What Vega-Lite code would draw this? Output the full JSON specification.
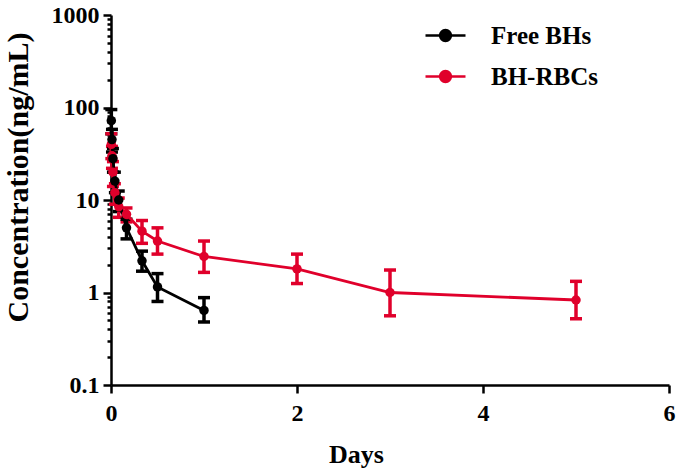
{
  "$schema": "https://vega.github.io/schema/vega-lite/v6.json",
  "width": 558,
  "height": 370,
  "autosize": "none",
  "padding": {"left": 111, "top": 15, "right": 11, "bottom": 89},
  "background": "white",
  "config": {
    "view": {"stroke": null},
    "font": "Liberation Serif",
    "axis": {
      "domainColor": "black", "domainWidth": 2.5, "tickColor": "black", "tickWidth": 2.5,
      "labelColor": "black", "labelFont": "Liberation Serif", "labelFontWeight": "bold", "labelFontSize": 24,
      "titleColor": "black", "titleFont": "Liberation Serif", "titleFontWeight": "bold", "titleFontSize": 26,
      "grid": false
    }
  },
  "data": {"values": [
    {"series": "BH-RBCs", "t": 0.0035, "c": 40, "lo": 28, "hi": 52},
    {"series": "BH-RBCs", "t": 0.0104, "c": 30, "lo": 22, "hi": 38},
    {"series": "BH-RBCs", "t": 0.0208, "c": 20, "lo": 14, "hi": 26},
    {"series": "BH-RBCs", "t": 0.0417, "c": 12, "lo": 9, "hi": 15},
    {"series": "BH-RBCs", "t": 0.0833, "c": 8.5, "lo": 6.5, "hi": 10.5},
    {"series": "BH-RBCs", "t": 0.1667, "c": 7.0, "lo": 5.8, "hi": 8.2},
    {"series": "BH-RBCs", "t": 0.3333, "c": 4.6, "lo": 3.4, "hi": 6.0},
    {"series": "BH-RBCs", "t": 0.5, "c": 3.6, "lo": 2.6, "hi": 5.0},
    {"series": "BH-RBCs", "t": 1, "c": 2.45, "lo": 1.65, "hi": 3.6},
    {"series": "BH-RBCs", "t": 2, "c": 1.8, "lo": 1.25, "hi": 2.6},
    {"series": "BH-RBCs", "t": 3, "c": 1.0, "lo": 0.56, "hi": 1.75},
    {"series": "BH-RBCs", "t": 5, "c": 0.83, "lo": 0.52, "hi": 1.32},
    {"series": "Free BHs", "t": 0.0035, "c": 72, "lo": 52, "hi": 95},
    {"series": "Free BHs", "t": 0.0104, "c": 45, "lo": 33, "hi": 58},
    {"series": "Free BHs", "t": 0.0208, "c": 28, "lo": 20, "hi": 36},
    {"series": "Free BHs", "t": 0.0417, "c": 16, "lo": 12, "hi": 20},
    {"series": "Free BHs", "t": 0.0833, "c": 10, "lo": 7.5, "hi": 12.5},
    {"series": "Free BHs", "t": 0.1667, "c": 5.0, "lo": 3.8, "hi": 6.2},
    {"series": "Free BHs", "t": 0.3333, "c": 2.2, "lo": 1.7, "hi": 2.8},
    {"series": "Free BHs", "t": 0.5, "c": 1.15, "lo": 0.8, "hi": 1.6},
    {"series": "Free BHs", "t": 1, "c": 0.64, "lo": 0.48, "hi": 0.88}
  ]},
  "encoding": {
    "x": {"field": "t", "type": "quantitative",
      "scale": {"domain": [0, 6], "nice": false, "zero": false},
      "axis": {"title": "Days", "values": [0, 2, 4, 6], "tickSize": 8, "labelPadding": 8, "labelFlush": false,
        "titleX": 245, "titleY": 56, "titleBaseline": "top", "titleAnchor": null, "titleAlign": "center"}},
    "color": {"field": "series", "type": "nominal",
      "scale": {"domain": ["Free BHs", "BH-RBCs"], "range": ["#000000", "#e0002b"]},
      "legend": {"title": null, "orient": "none", "legendX": 313, "legendY": -1,
        "symbolType": "M-1,0L1,0M-0.27,0A0.27,0.27 0 1 1 0.27,0A0.27,0.27 0 1 1 -0.27,0Z",
        "symbolSize": 1600, "symbolStrokeWidth": 2.5, "symbolFillColor": null,
        "labelFont": "Liberation Serif", "labelFontWeight": "bold", "labelFontSize": 25, "labelColor": "black",
        "labelOffset": 24, "rowPadding": 6, "symbolOpacity": 1}}
  },
  "layer": [
    {"mark": {"type": "errorbar", "opacity": 1, "ticks": {"size": 12, "thickness": 3.5, "opacity": 1}, "rule": {"strokeWidth": 3.5, "opacity": 1}},
     "encoding": {"y": {"field": "lo", "type": "quantitative", "title": "Concentration(ng/mL)", "scale": {"type": "log", "domain": [0.1, 1000], "nice": false}}, "y2": {"field": "hi"}}},
    {"mark": {"type": "line", "strokeWidth": 2.8},
     "encoding": {"y": {"field": "c", "type": "quantitative",
       "scale": {"type": "log", "domain": [0.1, 1000], "nice": false},
       "axis": {"title": "Concentration(ng/mL)", "format": "~g",
         "values": [0.1,0.2,0.3,0.4,0.5,0.6,0.7,0.8,0.9,1,2,3,4,5,6,7,8,9,10,20,30,40,50,60,70,80,90,100,200,300,400,500,600,700,800,900,1000],
         "labelExpr": "abs(log(datum.value)/LN10 - round(log(datum.value)/LN10)) < 0.001 ? datum.label : ''",
         "tickSize": {"condition": {"test": "abs(log(datum.value)/LN10 - round(log(datum.value)/LN10)) < 0.001", "value": 8}, "value": 4},
         "labelPadding": 4, "titleX": -93, "titleY": 162, "titleAnchor": null, "titleAlign": "center", "titleBaseline": "middle", "titleFontSize": 30}}}},
    {"mark": {"type": "point", "filled": true, "size": 90, "opacity": 1},
     "encoding": {"y": {"field": "c", "type": "quantitative", "title": "Concentration(ng/mL)"}}}
  ]
}
